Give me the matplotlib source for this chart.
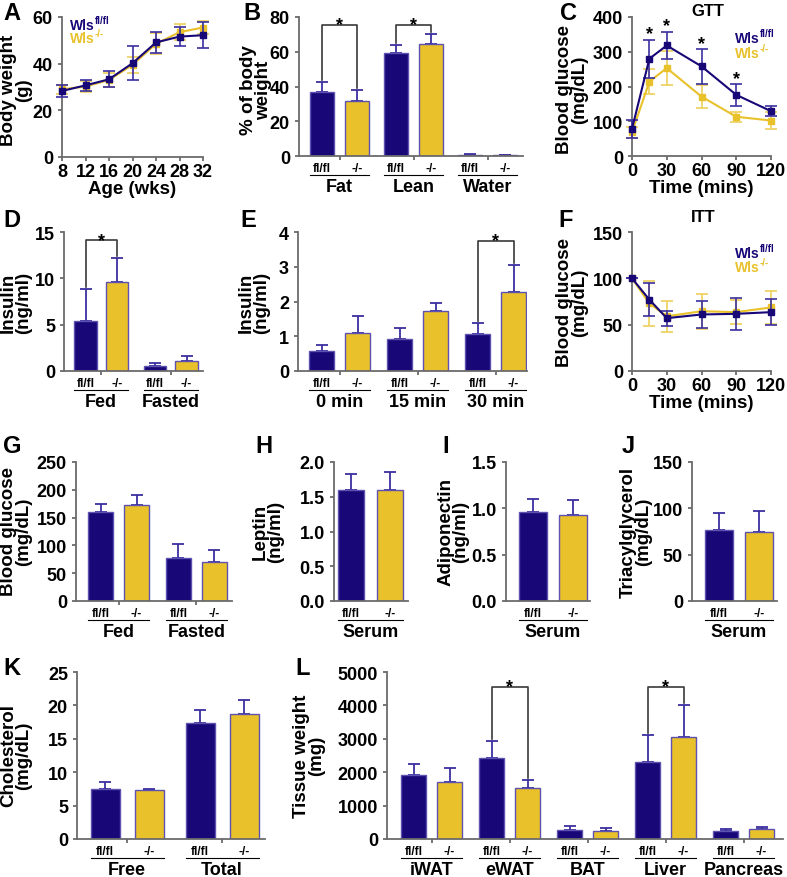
import matplotlib
matplotlib.use("Agg")
import matplotlib.pyplot as plt
import matplotlib.transforms as mtrans

plt.rcParams['font.family'] = ['Liberation Sans', 'DejaVu Sans']
plt.rcParams['font.weight'] = 'bold'
plt.rcParams['axes.labelweight'] = 'bold'

# ---- data ----
# A body weight
age = [8, 12, 16, 20, 24, 28, 32]
bw_fl = [28.3, 30.7, 33.3, 40.2, 49.1, 51.6, 52.2]
bw_fl_err = [2.5, 2.5, 3.5, 7.2, 4.5, 4.2, 5.6]
bw_ko = [29.0, 30.2, 33.0, 39.5, 48.5, 53.5, 55.5]
bw_ko_err = [2.0, 2.2, 3.0, 3.5, 4.5, 3.5, 3.0]

# B body composition
comp_groups = ['Fat', 'Lean', 'Water']
comp_fl = [37.1, 59.4, 0.8]
comp_fl_err = [5.4, 4.3, 0.4]
comp_ko = [31.7, 64.6, 0.4]
comp_ko_err = [6.3, 5.6, 0.1]

# C GTT
gtt_t = [0, 15, 30, 60, 90, 120]
gtt_fl = [78, 280, 318, 258, 176, 129]
gtt_fl_err = [25, 55, 40, 50, 32, 15]
gtt_ko = [68, 214, 253, 171, 113, 102]
gtt_ko_err = [15, 37, 50, 33, 14, 25]
gtt_star_t = [15, 30, 60, 90]

# D insulin fed/fasted
ins_groups = ['Fed', 'Fasted']
ins_fl = [5.4, 0.55]
ins_fl_err = [3.4, 0.28]
ins_ko = [9.6, 1.05]
ins_ko_err = [2.6, 0.55]

# E insulin after glucose
gsis_groups = ['0 min', '15 min', '30 min']
gsis_fl = [0.57, 0.93, 1.06]
gsis_fl_err = [0.18, 0.30, 0.32]
gsis_ko = [1.09, 1.73, 2.26]
gsis_ko_err = [0.50, 0.23, 0.80]

# F ITT
itt_t = [0, 15, 30, 60, 90, 120]
itt_fl = [100, 77, 57, 61, 61.7, 63.5]
itt_fl_err = [0, 18, 8, 15, 17, 14]
itt_ko = [100, 73, 59, 64.5, 63.5, 68.6]
itt_ko_err = [0, 24, 17, 19, 13, 18]

# G blood glucose
glu_groups = ['Fed', 'Fasted']
glu_fl = [160, 77.5]
glu_fl_err = [15, 25.5]
glu_ko = [172.5, 70]
glu_ko_err = [17.5, 21]

# H-J serum
serum_groups = ['Serum']
lep_fl, lep_fl_err, lep_ko, lep_ko_err = [1.6], [0.23], [1.6], [0.26]
adi_fl, adi_fl_err, adi_ko, adi_ko_err = [0.96], [0.14], [0.93], [0.16]
tg_fl, tg_fl_err, tg_ko, tg_ko_err = [76.4], [19], [74.6], [23]

# K cholesterol
chol_groups = ['Free', 'Total']
chol_fl = [7.55, 17.4]
chol_fl_err = [1.05, 1.85]
chol_ko = [7.3, 18.65]
chol_ko_err = [0.2, 2.2]

# L tissue weight
tis_groups = ['iWAT', 'eWAT', 'BAT', 'Liver', 'Pancreas']
tis_fl = [1930, 2420, 260, 2320, 250]
tis_fl_err = [320, 500, 120, 800, 50]
tis_ko = [1700, 1520, 250, 3060, 290]
tis_ko_err = [420, 260, 80, 950, 80]

# ---- styles ----
NAVY = '#170777'
GOLD = '#e8c12b'
EDGE = '#5d52b0'
ERR_N = '#3b2f9f'
ERR_G = '#eed05a'
AXC = '#6b6b6b'
BRK = '#3a3a3a'
NARROW = ['Liberation Sans Narrow', 'Liberation Sans']
TICK_FS = 13
LAB_FS = 13.5
GRP_FS = 13

W, H = 787, 878
fig = plt.figure(figsize=(W / 100, H / 100), dpi=100)


def px_axes(l, t, r, b):
    ax = fig.add_axes([l / W, 1 - b / H, (r - l) / W, (b - t) / H])
    ax.patch.set_alpha(0)
    for s in ['top', 'right']:
        ax.spines[s].set_visible(False)
    for s in ['left', 'bottom']:
        ax.spines[s].set_color(AXC)
        ax.spines[s].set_linewidth(1.3)
    ax.tick_params(colors=AXC, labelcolor='black', labelsize=TICK_FS, width=1.3, length=3)
    ax.tick_params(axis='x', pad=1.5)
    ax.hpx = b - t
    return ax


def below(ax, px):
    return mtrans.offset_copy(ax.get_xaxis_transform(), fig=fig, y=-px, units='dots')


def ylab(x, y, s):
    fig.text(x / W, 1 - y / H, s, rotation=90, ha='center', va='center',
             fontsize=LAB_FS, linespacing=0.82, fontweight='bold', multialignment='center')


def letter(x, y, s):
    fig.text(x / W, 1 - y / H, s, fontsize=17, fontweight='bold', ha='left', va='baseline')


def bar_panel(ax, groups, fl, fl_err, ko, ko_err, x0, d, G, w, xw, ticks=True):
    n = len(fl)
    xf = [x0 + G * i for i in range(n)]
    xk = [x + d for x in xf]
    ax.errorbar(xf, fl, yerr=[[0] * n, fl_err], fmt='none', ecolor=ERR_N,
                elinewidth=1.3, capsize=4, capthick=1.3, zorder=1)
    ax.errorbar(xk, ko, yerr=[[0] * n, ko_err], fmt='none', ecolor=ERR_N,
                elinewidth=1.3, capsize=4, capthick=1.3, zorder=1)
    ax.bar(xf, fl, w, color=NAVY, edgecolor=EDGE, linewidth=1, zorder=2)
    ax.bar(xk, ko, w, color=GOLD, edgecolor=EDGE, linewidth=1, zorder=2)
    ax.set_xlim(0, xw)
    mids = [(a + b) / 2 for a, b in zip(xf, xk)]
    ax.set_xticks(mids if ticks else [])
    ax.set_xticklabels([])
    for i in range(n):
        ax.text(xf[i], 0, 'fl/fl', transform=below(ax, 12), ha='center', va='center',
                fontsize=8.5, family=NARROW)
        ax.text(xk[i], 0, '-/-', transform=below(ax, 12), ha='center', va='center',
                fontsize=8.5, family=NARROW)
        ax.plot([xf[i] - w / 2, xk[i] + w / 2], [0, 0], transform=below(ax, 19),
                color='black', lw=0.8, clip_on=False)
        ax.text(mids[i], 0, groups[i], transform=below(ax, 31), ha='center', va='center',
                fontsize=GRP_FS)
    return xf, xk


def bracket(ax, x1, x2, ytop, y1, y2):
    lo, hi = ax.get_ylim()
    gap = 2 * (hi - lo) / ax.hpx
    ax.plot([x1, x1, x2, x2], [y1 + gap, ytop, ytop, y2 + gap], color=BRK, lw=1.2,
            clip_on=False, zorder=3)
    ax.annotate('*', ((x1 + x2) / 2, ytop), xytext=(0, 0), textcoords='offset points',
                ha='center', va='center', fontsize=13)


def line_panel(ax, x, fl, fl_err, ko, ko_err):
    for y, e, c, ec, z in [(ko, ko_err, GOLD, ERR_G, 2), (fl, fl_err, NAVY, ERR_N, 3)]:
        cont = ax.errorbar(x, y, yerr=e, color=c, ecolor=ec, marker='s', ms=5, mec=c,
                           lw=1.5, elinewidth=1.2, capsize=4, capthick=1.2, zorder=z)
        for art in cont.get_children():
            art.set_clip_on(False)


def legend(x, y1, y2):
    for y, sup, c in [(y1, 'fl/fl', NAVY), (y2, '-/-', GOLD)]:
        t = fig.text(x / W, 1 - y / H, 'Wls', color=c, fontsize=10, ha='left', va='baseline')
        plt.annotate(sup, xy=(1.0, 0.62), xycoords=t, color=c, fontsize=7,
                     ha='left', va='baseline', annotation_clip=False)


# ---- A ----
ax = px_axes(62, 18, 203, 158)
line_panel(ax, age, bw_fl, bw_fl_err, bw_ko, bw_ko_err)
ax.set_xlim(8, 32)
ax.set_ylim(0, 60)
ax.set_xticks(age)
ax.set_yticks([0, 20, 40, 60])
ax.set_xlabel('Age (wks)', fontsize=LAB_FS, labelpad=0)
legend(70, 30, 43)
ylab(16, 90, 'Body weight\n(g)')
letter(3, 20, 'A')

# ---- B ----
ax = px_axes(299, 18, 523, 157)
ax.set_ylim(0, 80)
ax.set_yticks([0, 20, 40, 60, 80])
xf, xk = bar_panel(ax, comp_groups, comp_fl, comp_fl_err, comp_ko, comp_ko_err,
                   23, 35, 74, 24, 224)
for i in [0, 1]:
    bracket(ax, xf[i], xk[i], 75.5, comp_fl[i] + comp_fl_err[i], comp_ko[i] + comp_ko_err[i])
ylab(256, 90, '% of body\nweight')
letter(243, 20, 'B')

# ---- C ----
ax = px_axes(632, 18, 771, 157)
line_panel(ax, gtt_t, gtt_fl, gtt_fl_err, gtt_ko, gtt_ko_err)
ax.set_xlim(0, 120)
ax.set_ylim(0, 400)
ax.set_xticks([0, 30, 60, 90, 120])
ax.set_yticks([0, 100, 200, 300, 400])
ax.set_xlabel('Time (mins)', fontsize=LAB_FS, labelpad=0)
for t in gtt_star_t:
    i = gtt_t.index(t)
    ax.annotate('*', (t, gtt_fl[i] + gtt_fl_err[i]), xytext=(0, 4), textcoords='offset points',
                ha='center', va='center', fontsize=13)
fig.text(708 / W, 1 - 12 / H, 'GTT', fontsize=12, ha='center', va='center')
legend(735, 43, 58)
ylab(572, 90, 'Blood glucose\n(mg/dL)')
letter(560, 20, 'C')

# ---- D ----
ax = px_axes(64, 233, 203, 372)
ax.set_ylim(0, 15)
ax.set_yticks([0, 5, 10, 15])
xf, xk = bar_panel(ax, ins_groups, ins_fl, ins_fl_err, ins_ko, ins_ko_err,
                   21.5, 31.5, 69.5, 22.5, 139)
bracket(ax, xf[0], xk[0], 14.1, ins_fl[0] + ins_fl_err[0], ins_ko[0] + ins_ko_err[0])
ylab(16, 303, 'Insulin\n(ng/ml)')
letter(3, 227, 'D')

# ---- E ----
ax = px_axes(298, 233, 527, 372)
ax.set_ylim(0, 4)
ax.set_yticks([0, 1, 2, 3, 4])
xf, xk = bar_panel(ax, gsis_groups, gsis_fl, gsis_fl_err, gsis_ko, gsis_ko_err,
                   23.5, 36, 78, 24.5, 229)
bracket(ax, xf[2], xk[2], 3.74, gsis_fl[2] + gsis_fl_err[2], gsis_ko[2] + gsis_ko_err[2])
ylab(254, 303, 'Insulin\n(ng/ml)')
letter(240, 227, 'E')

# ---- F ----
ax = px_axes(632, 233, 771, 372)
line_panel(ax, itt_t, itt_fl, itt_fl_err, itt_ko, itt_ko_err)
ax.set_xlim(0, 120)
ax.set_ylim(0, 150)
ax.set_xticks([0, 30, 60, 90, 120])
ax.set_yticks([0, 50, 100, 150])
ax.set_xlabel('Time (mins)', fontsize=LAB_FS, labelpad=0)
fig.text(703 / W, 1 - 217 / H, 'ITT', fontsize=12, ha='center', va='center')
legend(735, 258, 272)
ylab(572, 303, 'Blood glucose\n(mg/dL)')
letter(558, 227, 'F')

# ---- G ----
ax = px_axes(76, 463, 232, 602)
ax.set_ylim(0, 250)
ax.set_yticks([0, 50, 100, 150, 200, 250])
bar_panel(ax, glu_groups, glu_fl, glu_fl_err, glu_ko, glu_ko_err, 24.5, 36, 78, 25, 156)
ylab(16, 532, 'Blood glucose\n(mg/dL)')
letter(3, 453, 'G')

# ---- H ----
ax = px_axes(334, 463, 408, 602)
ax.set_ylim(0, 2)
ax.set_yticks([0, 0.5, 1.0, 1.5, 2.0])
ax.set_yticklabels(['0.0', '0.5', '1.0', '1.5', '2.0'])
bar_panel(ax, serum_groups, lep_fl, lep_fl_err, lep_ko, lep_ko_err, 17, 39, 0, 26, 74, ticks=False)
ylab(268, 532, 'Leptin\n(ng/ml)')
letter(255, 453, 'H')

# ---- I ----
ax = px_axes(506, 463, 590, 602)
ax.set_ylim(0, 1.5)
ax.set_yticks([0, 0.5, 1.0, 1.5])
ax.set_yticklabels(['0.0', '0.5', '1.0', '1.5'])
bar_panel(ax, serum_groups, adi_fl, adi_fl_err, adi_ko, adi_ko_err, 27, 40, 0, 28, 84, ticks=False)
ylab(453, 532, 'Adiponectin\n(ng/ml)')
letter(442, 453, 'I')

# ---- J ----
ax = px_axes(692, 463, 777, 602)
ax.set_ylim(0, 150)
ax.set_yticks([0, 50, 100, 150])
bar_panel(ax, serum_groups, tg_fl, tg_fl_err, tg_ko, tg_ko_err, 27, 40, 0, 28, 85, ticks=False)
ylab(636, 532, 'Triacylglycerol\n(mg/dL)')
letter(622, 453, 'J')

# ---- K ----
ax = px_axes(77, 673, 265, 840)
ax.set_ylim(0, 25)
ax.set_yticks([0, 5, 10, 15, 20, 25])
bar_panel(ax, chol_groups, chol_fl, chol_fl_err, chol_ko, chol_ko_err, 28, 44, 95, 29, 188)
ylab(16, 756, 'Cholesterol\n(mg/dL)')
letter(3, 675, 'K')

# ---- L ----
ax = px_axes(387, 673, 783, 840)
ax.set_ylim(0, 5000)
ax.set_yticks([0, 1000, 2000, 3000, 4000, 5000])
xf, xk = bar_panel(ax, tis_groups, tis_fl, tis_fl_err, tis_ko, tis_ko_err,
                   26.5, 36, 78, 24.5, 396)
for i in [1, 3]:
    bracket(ax, xf[i], xk[i], 4550, tis_fl[i] + tis_fl_err[i], tis_ko[i] + tis_ko_err[i])
ylab(309, 756, 'Tissue weight\n(mg)')
letter(295, 675, 'L')

fig.savefig('out.png', dpi=100)
